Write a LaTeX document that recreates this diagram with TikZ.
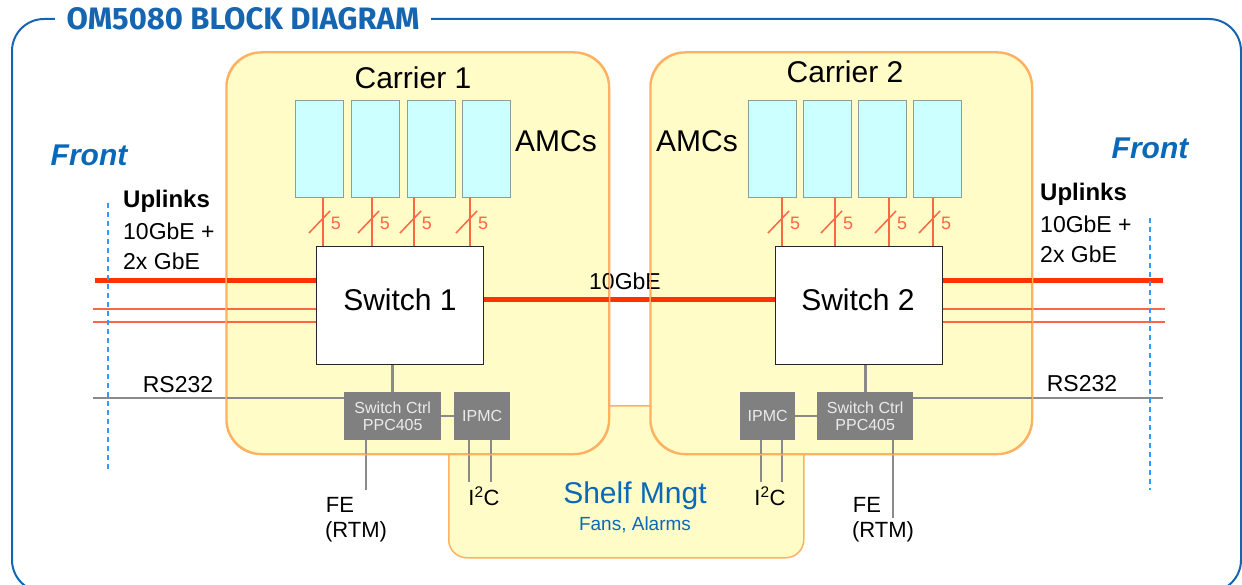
\documentclass[tikz,border=0pt]{standalone}
\usepackage{fontspec}
\setmainfont{Liberation Sans}
\newfontfamily\titlefont{Fira Sans}
\definecolor{frameblue}{HTML}{1565B0}
\definecolor{carfill}{HTML}{FFFCC8}
\definecolor{carline}{HTML}{FFB060}
\definecolor{amcfill}{HTML}{CCFFFF}
\definecolor{amcline}{HTML}{8C9C9C}
\definecolor{redthick}{HTML}{FF3300}
\definecolor{redthin}{HTML}{FF6644}
\definecolor{ctrlgray}{HTML}{808080}
\definecolor{linegray}{HTML}{8A8A8A}
\definecolor{txtblue}{HTML}{0A68B8}
\definecolor{dashblue}{HTML}{3399FF}
\begin{document}
\begin{tikzpicture}[x=1pt,y=-1pt,
  fsz/.style={font=\fontsize{#1}{#1}\selectfont},
  lbl/.style={inner sep=0pt, text=black},
  carrier/.style={draw=carline, line width=1.5pt, fill=carfill, rounded corners=35pt, inner sep=0pt, anchor=north west},
  amc/.style={draw=amcline, line width=1pt, fill=amcfill, inner sep=0pt, anchor=north west, minimum width=48pt, minimum height=97pt},
  switchbox/.style={draw=black!85, line width=1.2pt, fill=white, inner sep=0pt, anchor=north west, minimum width=167pt, minimum height=118pt},
  ctrlbox/.style={fill=ctrlgray, inner sep=0pt, anchor=north west, minimum height=48pt, text=white!92!black, fsz=16, align=center},
  redbus/.style={draw=redthick, line width=5pt},
  redlink/.style={draw=redthin, line width=2pt},
  amclink/.style={draw=redthin, line width=1.5pt},
  grayln/.style={draw=linegray, line width=1.5pt},
  frontdash/.style={draw=dashblue, line width=1.2pt, dash pattern=on 5pt off 4pt},
  bluetext/.style={inner sep=0pt, text=txtblue}
]
\useasboundingbox (0,0) rectangle (1242,585);
\clip (0,0) rectangle (1242,585);
\fill[white] (0,0) rectangle (1242,585);

% frame
\draw[frameblue, line width=2pt, rounded corners=32pt] (12,19) rectangle (1241,592);
\node[fill=white, inner xsep=12pt, inner ysep=2pt, text=frameblue, font=\titlefont\bfseries\fontsize{31}{31}\selectfont] (title) at (243,19) {OM5080 BLOCK DIAGRAM};

% shelf and carriers
\node[carrier, rounded corners=18pt, minimum width=355pt, minimum height=152pt] (shelf) at (448,405) {};
\node[carrier, minimum width=382pt, minimum height=401pt] (car1) at (226,52) {};
\node[carrier, minimum width=381pt, minimum height=401pt] (car2) at (650,52) {};

\node[lbl, fsz=30] (car1t) at (413,78) {Carrier 1};
\node[lbl, fsz=30] (car2t) at (845,72) {Carrier 2};

% AMCs
\node[amc] (a11) at (295,100) {};
\node[amc] (a12) at (351,100) {};
\node[amc] (a13) at (407,100) {};
\node[amc] (a14) at (462,100) {};
\node[amc] (a21) at (748,100) {};
\node[amc] (a22) at (803,100) {};
\node[amc] (a23) at (858,100) {};
\node[amc] (a24) at (913,100) {};
\node[lbl, fsz=30] (amct1) at (556,141) {AMCs};
\node[lbl, fsz=30] (amct2) at (697,141) {AMCs};

% switches
\node[switchbox] (sw1) at (316,246) {};
\node[switchbox] (sw2) at (775,246) {};
\node[lbl, fsz=30] (sw1t) at (400,300) {Switch 1};
\node[lbl, fsz=30] (sw2t) at (858,300) {Switch 2};

% AMC links with bus width marks
\foreach \a/\x in {a11/323, a12/372, a13/414, a14/470, a21/782, a22/835, a23/889, a24/933} {
  \draw[amclink] (\a.south -| \x,0) -- (sw1.north -| \x,0);
  \draw[amclink] (\x-14,233) -- (\x+7,211);
  \node[inner sep=0pt, text=redthin, fsz=18] at (\x+13,223) {5};
}

% control boxes
\node[ctrlbox, minimum width=97pt] (ctl1) at (344,392) {Switch Ctrl\\[1pt]PPC405};
\node[ctrlbox, minimum width=56pt] (ipmc1) at (454,392) {IPMC};
\node[ctrlbox, minimum width=55pt] (ipmc2) at (740,392) {IPMC};
\node[ctrlbox, minimum width=96pt] (ctl2) at (817,392) {Switch Ctrl\\[1pt]PPC405};

\draw[grayln, line width=3pt] (sw1.south -| ctl1.north) -- (ctl1.north);
\draw[grayln, line width=3pt] (sw2.south -| 865,0) -- (ctl2.north -| 865,0);
\draw[grayln] (ctl1.east) -- (ipmc1.west);
\draw[grayln] (ipmc2.east) -- (ctl2.west);

% uplinks and 10GbE
\coordinate (upL) at (95,281);
\coordinate (upR) at (1163,281);
\coordinate (midbus) at (0,300);
\draw[redbus] (upL) -- (upL -| sw1.west);
\draw[redbus] (upR) -- (upR -| sw2.east);
\draw[redbus] (sw1.east |- midbus) -- (sw2.west |- midbus);
\node[lbl, fsz=23] (tengbe) at (625,281) {10GbE};
\foreach \y in {309,322} {
  \coordinate (gL\y) at (93,\y);
  \coordinate (gR\y) at (1165,\y);
  \draw[redlink] (gL\y) -- (gL\y -| sw1.west);
  \draw[redlink] (gR\y) -- (gR\y -| sw2.east);
}

% RS232
\coordinate (rsL) at (93,398);
\coordinate (rsR) at (1163,398);
\draw[grayln] (rsL) -- (rsL -| ctl1.west);
\draw[grayln] (rsR) -- (rsR -| ctl2.east);
\node[lbl, fsz=23] (rs1) at (178,385) {RS232};
\node[lbl, fsz=23] (rs2) at (1082,384) {RS232};

% FE and I2C
\coordinate (fe1) at (366,490);
\coordinate (fe2) at (893,518);
\draw[grayln] (ctl1.south -| fe1) -- (fe1);
\draw[grayln] (ctl2.south -| fe2) -- (fe2);
\foreach \x in {469,491} { \draw[grayln] (ipmc1.south -| \x,0) -- (\x,482); }
\foreach \x in {761,782} { \draw[grayln] (ipmc2.south -| \x,0) -- (\x,482); }
\node[lbl, fsz=22] (fet1) at (340,505) {FE};
\node[lbl, fsz=22] (rtm1) at (356,532) {(RTM)};
\node[lbl, fsz=22] (fet2) at (867,505) {FE};
\node[lbl, fsz=22] (rtm2) at (883,532) {(RTM)};
\node[lbl, fsz=22] (i2c1) at (484,496) {I\textsuperscript{2}C};
\node[lbl, fsz=22] (i2c2) at (770,496) {I\textsuperscript{2}C};

% shelf text
\node[bluetext, fsz=30] (shelft) at (635,496) {Shelf Mngt};
\node[bluetext, fsz=19] (fans) at (635,525) {Fans, Alarms};

% carrier borders on top
\draw[carline, line width=1.5pt, rounded corners=35pt] (car1.north west) rectangle (car1.south east);
\draw[carline, line width=1.5pt, rounded corners=35pt] (car2.north west) rectangle (car2.south east);

% front
\node[bluetext, font=\bfseries\itshape\fontsize{30}{30}\selectfont] (front1) at (89,155) {Front};
\node[bluetext, font=\bfseries\itshape\fontsize{30}{30}\selectfont] (front2) at (1150,148) {Front};
\node[lbl, anchor=west, font=\bfseries\fontsize{24}{24}\selectfont] (upt1) at (123,201) {Uplinks};
\node[lbl, anchor=west, fsz=23] (upa1) at (123,231) {10GbE +};
\node[lbl, anchor=west, fsz=23] (upb1) at (123,261) {2x GbE};
\node[lbl, anchor=west, font=\bfseries\fontsize{24}{24}\selectfont] (upt2) at (1040,194) {Uplinks};
\node[lbl, anchor=west, fsz=23] (upa2) at (1040,224) {10GbE +};
\node[lbl, anchor=west, fsz=23] (upb2) at (1040,254) {2x GbE};
\coordinate (dl1) at (108,203);
\coordinate (dl2) at (108,470);
\coordinate (dr1) at (1150,218);
\coordinate (dr2) at (1150,490);
\draw[frontdash] (dl1) -- (dl2);
\draw[frontdash] (dr1) -- (dr2);
\end{tikzpicture}
\end{document}
